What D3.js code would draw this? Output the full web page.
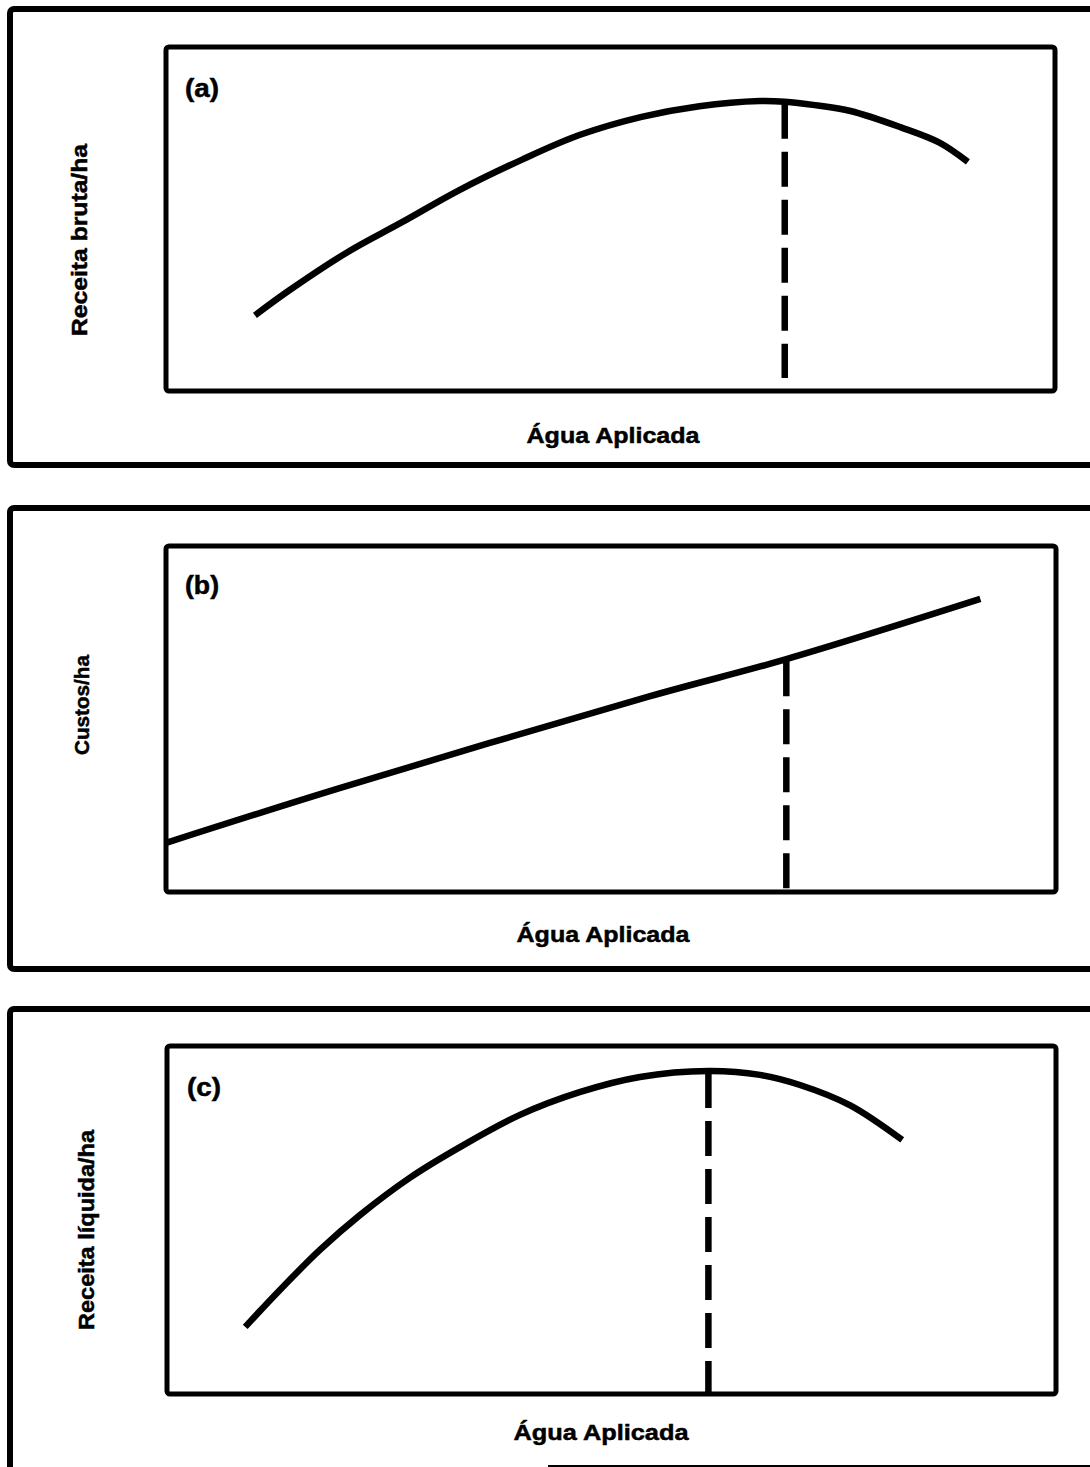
<!DOCTYPE html>
<html>
<head>
<meta charset="utf-8">
<script src="https://cdn.jsdelivr.net/npm/d3@7"></script>
<style>
  html, body { margin: 0; padding: 0; background: #fff; }
  svg { display: block; }
  text { font-family: "Liberation Sans", Arial, Helvetica, sans-serif; font-weight: bold; fill: #000; stroke: #000; stroke-width: 0.5px; }
</style>
</head>
<body>
<svg id="chart" width="1090" height="1467"></svg>
<script>
// Panel (a): gross revenue per hectare against applied water
const waterA = [10, 14, 20.5, 26.5, 33, 40, 46.5, 53.5, 60, 66.8, 69.6, 73, 77, 82.6, 87, 90.2];
const grossRevenue = [22, 29.5, 40.5, 49, 58.4, 67.2, 74.4, 79.7, 82.8, 84.3, 84.1, 83.1, 81.4, 76.7, 72.2, 66.6];

// Panel (b): costs per hectare against applied water
const waterB = [0, 19.6, 54.4, 69.7, 91.5];
const costs = [14.2, 30.1, 56.6, 67.3, 84.7];

// Panel (c): net revenue per hectare against applied water
const waterC = [8.8, 12.7, 17.2, 21.7, 27.3, 33, 39.7, 46.5, 53.2, 60.9, 66.7, 71.2, 76.8, 82.7];
const netRevenue = [19.3, 29.9, 41.4, 51.4, 62.1, 71, 80.2, 86.8, 91.1, 92.8, 91.7, 88.8, 83, 73];

// Water amount marked by the dashed line in each panel, and where the dash stops
const optimumWater = [69.6, 69.7, 60.9];
const dashBottom = [3.8, 0, 0];

const panelTags = ["(a)", "(b)", "(c)"];
const yTitles = ["Receita bruta/ha", "Custos/ha", "Receita líquida/ha"];
const xTitle = "Água Aplicada";

const series = [
  { x: waterA, y: grossRevenue },
  { x: waterB, y: costs },
  { x: waterC, y: netRevenue }
];

// Geometry of each panel: outer frame, inner plot box, text anchors and widths
const layout = [
  { outer: [10, 9, 1100, 465], box: [166, 47, 1055, 391], tag: [185, 97], xt: [613, 443], xw: 173, yt: [87, 240], yw: 192, yfs: 22 },
  { outer: [10, 508, 1100, 969], box: [166, 546, 1056, 892], tag: [185, 594], xt: [603, 942], xw: 173, yt: [89, 705], yw: 100, yfs: 21 },
  { outer: [10, 1009, 1100, 1480], box: [167, 1046, 1056, 1394], tag: [187, 1096], xt: [601, 1440], xw: 175, yt: [94, 1230], yw: 200, yfs: 22 }
];

const svg = d3.select("#chart");
svg.append("rect").attr("width", 1090).attr("height", 1467).attr("fill", "#fff");

layout.forEach((L, i) => {
  const g = svg.append("g");
  const [ox0, oy0, ox1, oy1] = L.outer;
  g.append("rect")
    .attr("x", ox0).attr("y", oy0)
    .attr("width", ox1 - ox0).attr("height", oy1 - oy0)
    .attr("rx", 4)
    .attr("fill", "none").attr("stroke", "#000").attr("stroke-width", 6);

  const [bx0, by0, bx1, by1] = L.box;
  const x = d3.scaleLinear().domain([0, 100]).range([bx0, bx1]);
  const y = d3.scaleLinear().domain([0, 100]).range([by1, by0]);

  const clipId = "clip" + i;
  g.append("clipPath").attr("id", clipId)
    .append("rect").attr("x", bx0).attr("y", by0).attr("width", bx1 - bx0).attr("height", by1 - by0);

  const s = series[i];
  const pts = s.x.map((v, k) => [v, s.y[k]]);
  const line = d3.line().x(d => x(d[0])).y(d => y(d[1])).curve(d3.curveCatmullRom.alpha(0.5));

  const plot = g.append("g").attr("clip-path", `url(#${clipId})`);

  // value of the curve at the optimum, taken from the series
  const k = s.x.indexOf(optimumWater[i]);
  const topVal = s.y[k];
  plot.append("line")
    .attr("x1", x(optimumWater[i])).attr("x2", x(optimumWater[i]))
    .attr("y1", y(topVal) + 2).attr("y2", y(dashBottom[i]))
    .attr("stroke", "#000").attr("stroke-width", 6.5)
    .attr("stroke-dasharray", "35 13");

  plot.append("path")
    .attr("d", line(pts))
    .attr("fill", "none").attr("stroke", "#000")
    .attr("stroke-width", 6.5).attr("stroke-linecap", "butt").attr("stroke-linejoin", "round");

  g.append("rect")
    .attr("x", bx0).attr("y", by0)
    .attr("width", bx1 - bx0).attr("height", by1 - by0)
    .attr("rx", 3)
    .attr("fill", "none").attr("stroke", "#000").attr("stroke-width", 5);

  g.append("text").attr("x", L.tag[0]).attr("y", L.tag[1])
    .attr("font-size", 25)
    .attr("textLength", 34).attr("lengthAdjust", "spacingAndGlyphs")
    .text(panelTags[i]);

  g.append("text").attr("x", L.xt[0]).attr("y", L.xt[1])
    .attr("text-anchor", "middle").attr("font-size", 22)
    .attr("textLength", L.xw).attr("lengthAdjust", "spacingAndGlyphs")
    .text(xTitle);

  g.append("text")
    .attr("transform", `translate(${L.yt[0]},${L.yt[1]}) rotate(-90)`)
    .attr("text-anchor", "middle").attr("font-size", L.yfs)
    .attr("textLength", L.yw).attr("lengthAdjust", "spacingAndGlyphs")
    .text(yTitles[i]);
});

// visible stretch of the last frame's lower edge
svg.append("line").attr("x1", 548).attr("x2", 1090).attr("y1", 1466).attr("y2", 1466)
  .attr("stroke", "#000").attr("stroke-width", 2);
</script>
</body>
</html>
